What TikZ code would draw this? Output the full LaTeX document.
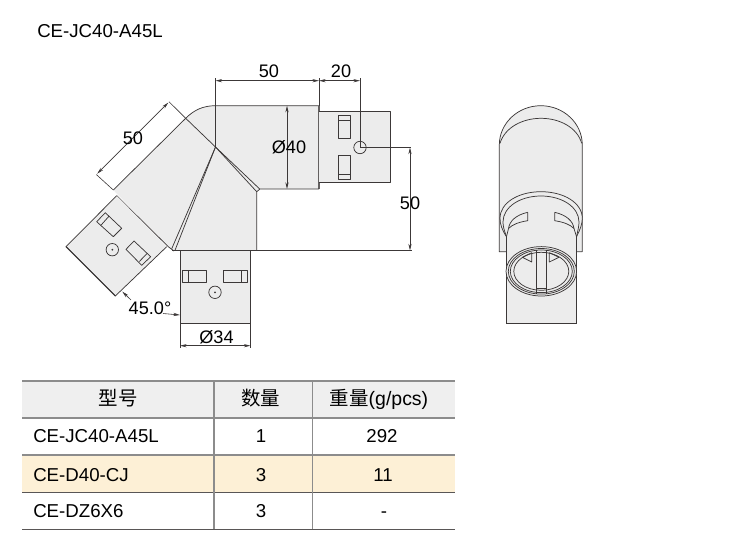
\documentclass[tikz,border=0pt]{standalone}
\usepackage{fontspec}
\setmainfont{Liberation Sans}
\newfontfamily\cjk{Noto Sans CJK SC}
\usetikzlibrary{arrows.meta}
\definecolor{bodyfill}{HTML}{ECECEC}
\definecolor{ink}{HTML}{3C3838}
\definecolor{headfill}{HTML}{EFEFEF}
\definecolor{rowfill}{HTML}{FDF0D6}
\definecolor{tblgrey}{HTML}{8C8C8C}
\tikzset{
  part/.style={draw=ink,line width=0.55pt,line join=round},
  solid part/.style={part,fill=bodyfill},
  heavy/.style={draw=ink,line width=1pt},
  dimline/.style={draw=ink,line width=0.45pt},
  dimarrow/.style={dimline,{Stealth[length=5pt,width=2.4pt]}-{Stealth[length=5pt,width=2.4pt]}},
  leader/.style={dimline,-{Stealth[length=5pt,width=2.4pt]}},
  dimlabel/.style={font=\fontsize{13.6}{15}\selectfont,text=black,inner sep=0pt},
  celltext/.style={font=\fontsize{14}{16}\selectfont,text=black,inner sep=0pt,anchor=base},
  celltextl/.style={font=\fontsize{14}{16}\selectfont,text=black,inner sep=0pt,anchor=base west},
  tline/.style={draw=tblgrey,line width=0.9pt},
  tlinedark/.style={draw=ink!85,line width=0.7pt},
  dot/.style={fill=ink,draw=none}
}
\begin{document}
\begin{tikzpicture}[x=0.75pt,y=-0.75pt]
\useasboundingbox (0,0) rectangle (750,547);
\node[font=\fontsize{14}{16}\selectfont,anchor=base west,inner sep=0pt] (title) at (37,37) {CE-JC40-A45L};

% named points
\coordinate (centre) at (215.5,147);
\coordinate (arcEnd) at (185.7,118.3);
\coordinate (topL) at (215.5,105.7);
\coordinate (topR) at (319,105.7);
\coordinate (botR) at (319,189);
\coordinate (hub) at (360,147.5);
\coordinate (baseR) at (256.7,250.5);
\coordinate (diagA) at (113.3,190);
\coordinate (lowL) at (180,323.3);
\coordinate (lowR) at (250.5,323.3);

% elbow body
\path[fill=bodyfill] (topL) -- (topR) -- (botR) -- (260,189) -- (256.7,191.7) -- (baseR) -- (172,250.5) -- (168.3,246.7) -- (diagA) -- (arcEnd) .. controls (194,110) and (203,105.7) .. (topL) -- cycle;
\draw[part] (arcEnd) .. controls (194,110) and (203,105.7) .. (topL) -- (topR);
\draw[heavy,draw=ink!80] (topR) -- (319,189);
\draw[part] (botR) -- (260,189) -- (256.7,191.7) -- (baseR);
\draw[part] (arcEnd) -- (diagA);
\draw[part] (arcEnd) -- (centre);
\draw[part] (centre) -- (259.7,189);
\draw[part] (centre) -- (256.7,191.7);
\draw[part] (diagA) ++(3.4,5.7) -- (168.3,246.7);
\draw[part] (centre) -- (171.7,248.8);
\draw[part] (centre) -- (175,250.3);
\draw[part] (168.3,246.7) -- (174,251);

% right plug
\draw[solid part] (319,111.7) -- (390.7,111.7) -- (390.7,182.3) -- (319,182.3);
\draw[heavy] (390.7,111.7) -- (390.7,182.3);
\draw[part] (338.3,115) rectangle (350.7,138.3);
\draw[part] (338.3,120) -- (350.7,120);
\draw[part] (338.3,155.7) rectangle (350.7,179);
\draw[part] (338.3,174) -- (350.7,174);
\draw[part] (hub) circle[radius=6.2];

% lower plug
\draw[solid part] (180,250.5) -- (180,323.3) -- (250.5,323.3) -- (250.5,250.5);
\draw[heavy] (180,323.3) -- (250.5,323.3);
\draw[part] (182.3,270.7) rectangle (206.7,282.3);
\draw[part] (188.3,270.7) -- (188.3,282.3);
\draw[part] (223.3,270.7) rectangle (247.3,282.3);
\draw[part] (241.7,270.7) -- (241.7,282.3);
\draw[part] (215,292.3) circle[radius=6.2];
\fill[dot] (215,292.3) circle[radius=1];

% left plug
\draw[solid part] (116.7,195.7) -- (66,246.7) -- (115.3,296) -- (166.7,246.7);
\draw[heavy,line width=0.8pt] (66,246.7) -- (115.3,296);
\draw[part] (96.7,221.7) -- (105.3,212.7) -- (121.7,228.3) -- (113.3,236.7) -- cycle;
\draw[part] (100.7,225.5) -- (109,216.2);
\draw[part] (126,249.3) -- (134,241) -- (150.7,256.7) -- (141.7,265.3) -- cycle;
\draw[part] (139.3,261.5) -- (147.3,253.3);
\draw[part] (112.3,249.7) circle[radius=6.2];
\fill[dot] (112.3,249.7) circle[radius=1];

% base line and extension lines
\draw[part] (172,250.5) -- (412,250.5);
\draw[dimline] (topL) -- (215.5,78) (centre) -- (topL);
\draw[dimline] (topR) -- (319,78);
\draw[dimline] (hub) -- (360,78);
\draw[dimline] (hub) -- (411,147.5);
\draw[dimarrow] (215.5,80.7) -- (319,80.7);
\draw[dimarrow] (319,80.7) -- (360,80.7);
\draw[dimarrow] (287,105.7) -- (287,189);
\draw[dimarrow] (410,147.5) -- (410,250.5);
\draw[dimline] (arcEnd) -- (169,101.7);
\draw[dimline] (diagA) -- (96.3,174.5);
\draw[dimarrow] (168.3,102.6) -- (97.2,173.7);
\draw[dimline] (lowL) -- (180,348);
\draw[dimline] (lowR) -- (250.5,348);
\draw[dimarrow] (180,345.7) -- (250.5,345.7);
\coordinate (angA) at (131,300);
\coordinate (angB) at (122.3,291.6);
\coordinate (angC) at (163,313.5);
\coordinate (angD) at (180,315);
\draw[leader] (angA) -- (angB);
\draw[leader] (angC) -- (angD);

% dimension labels
\node[dimlabel] (d50a) at (269,71.5) {50};
\node[dimlabel] (d20) at (341,71.5) {20};
\node[dimlabel] (d40) at (289,147.5) {Ø40};
\node[dimlabel] (d50b) at (410,203) {50};
\node[dimlabel] (d50c) at (133,138.5) {50};
\node[dimlabel] (d45) at (150,308) {45.0°};
\node[dimlabel] (d34) at (216.5,337) {Ø34};

% side view: rear body
\path[solid part] (506,251.7) -- (499.3,251.7) -- (499.3,145) .. controls (499.3,123.3) and (517.9,105.7) .. (540.8,105.7) .. controls (563.7,105.7) and (582.3,123.3) .. (582.3,145) -- (582.3,251.7) -- (576.7,251.7);
\draw[part] (500,143.3) .. controls (505,127) and (523,118.3) .. (541,118.3) .. controls (559,118.3) and (577,127) .. (581.7,143.3);
% tube fill
\fill[bodyfill] (506,230) rectangle (576.7,323.3);
% collar
\draw[part,fill=bodyfill] (506.5,236.7) .. controls (502,230) and (500,224) .. (500,218.3) .. controls (500,203) and (518,191.7) .. (541,191.7) .. controls (564,191.7) and (582.3,203) .. (582.3,218.3) .. controls (582.3,224) and (580,230) .. (576.5,236.7);
\draw[part] (506.5,236.7) .. controls (504,230) and (503,226) .. (503,222) .. controls (503,207) and (520,196) .. (541,196) .. controls (562,196) and (579,207) .. (579,222) .. controls (579,226) and (578,230) .. (576.5,236.7);
% slots
\draw[part] (527.7,212.3) -- (527.7,220.7) .. controls (519,222) and (512.5,224.5) .. (508.5,228.5) .. controls (509.5,221) and (516,215) .. (527.7,212.3);
\draw[part] (554.7,212.3) -- (554.7,220.7) .. controls (563.4,222) and (570,224.5) .. (574,228.5) .. controls (573,221) and (566.4,215) .. (554.7,212.3);
\draw[part] (508.5,228.5) -- (506.5,236.7);
\draw[part] (574,228.5) -- (576.5,236.7);
% tube
\draw[part] (506,236.7) -- (506,323.3);
\draw[part] (576.7,236.7) -- (576.7,323.3);
\draw[heavy] (506,323.3) -- (576.7,323.3);
\draw[part,fill=bodyfill] (541.3,271.3) ellipse[x radius=35.3,y radius=24.7];
\draw[part] (541.3,271.3) ellipse[x radius=33,y radius=22.8];
\draw[part] (541.3,271.3) ellipse[x radius=31,y radius=21.3];
\draw[part] (541.3,271.3) ellipse[x radius=27.5,y radius=19];
\draw[part] (536.3,250) -- (536.3,293.5);
\draw[part] (546,250) -- (546,293.5);
\draw[part] (536.3,288.5) -- (546,288.5);
\draw[part] (531.7,252.7) -- (522.3,257.3) -- (531.7,262) -- cycle;
\draw[part] (549.3,252.7) -- (559,257.3) -- (549.3,262) -- cycle;

% table
\fill[headfill] (22,381) rectangle (455,418);
\fill[rowfill] (22,455) rectangle (455,492);
\draw[tline] (22,381) -- (455,381);
\draw[tline] (22,418) -- (455,418);
\draw[tline] (22,455) -- (455,455);
\draw[tlinedark] (22,492) -- (455,492);
\draw[tlinedark] (22,529.3) -- (455,529.3);
\draw[tline] (214,381) -- (214,529.3);
\draw[tline] (312.3,381) -- (312.3,529.3);
\node[celltext,font=\fontsize{14.6}{16}\selectfont] (h1) at (118,405) {\cjk 型号};
\node[celltext,font=\fontsize{14.6}{16}\selectfont] (h2) at (260.5,405) {\cjk 数量};
\node[celltext,font=\fontsize{14.6}{16}\selectfont] (h3) at (379,405) {{\cjk 重量}(g/pcs)};
\node[celltextl] (r1a) at (33,442) {CE-JC40-A45L};
\node[celltext] (r1b) at (261,442) {1};
\node[celltext] (r1c) at (382,442) {292};
\node[celltextl] (r2a) at (33,481) {CE-D40-CJ};
\node[celltext] (r2b) at (261,481) {3};
\node[celltext] (r2c) at (383,481) {11};
\node[celltextl] (r3a) at (33,517) {CE-DZ6X6};
\node[celltext] (r3b) at (261,517) {3};
\node[celltext] (r3c) at (384,517) {-};
\end{tikzpicture}
\end{document}
